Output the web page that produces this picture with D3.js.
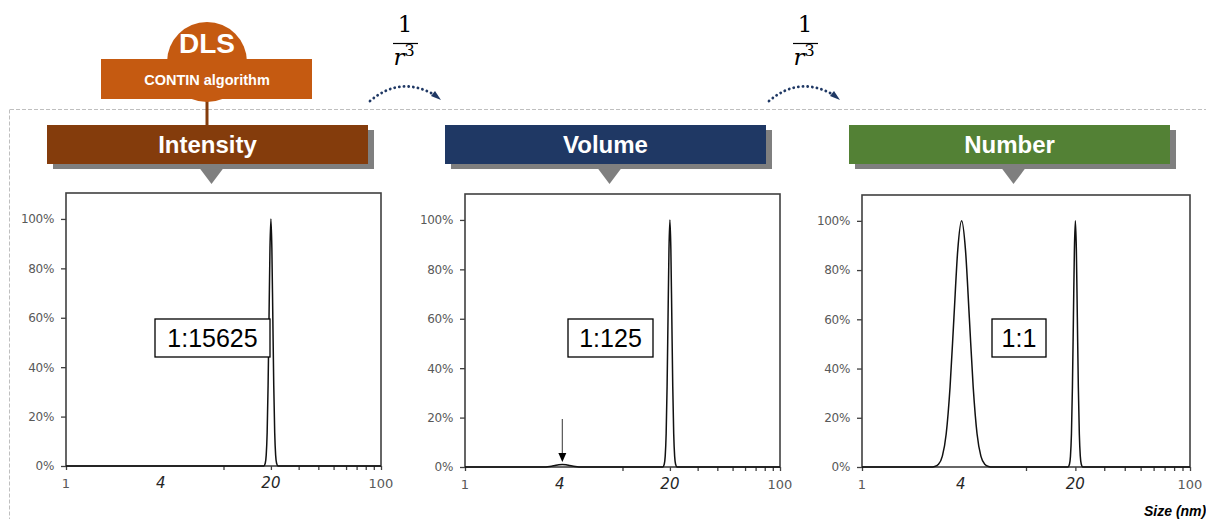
<!DOCTYPE html>
<html>
<head>
<meta charset="utf-8">
<script src="https://cdn.jsdelivr.net/npm/d3@7"></script>
<style>
  html, body { margin: 0; padding: 0; background: #fff; }
  svg { display: block; }
</style>
</head>
<body>
<svg id="chart" width="1206" height="519"></svg>
<script>
// ---------------- data ----------------
const panelTitles = ["Intensity", "Volume", "Number"];
const panelColors = ["#843C0C", "#1F3864", "#538135"];
const ratioLabels = ["1:15625", "1:125", "1:1"];

const yTickValues = [0, 20, 40, 60, 80, 100];
const xTickValues = [1, 10, 20, 30, 40, 50, 60, 70, 80, 90, 100];
const xLabelValues = [1, 4, 20, 100];
const xLabelText = ["1", "4", "20", "100"];

const intensitySizes  = [1, 18.03, 18.41, 18.67, 18.93, 19.19, 19.46, 19.73, 20, 20.28, 20.56, 20.85, 21.14, 21.43, 21.73, 22.18, 100];
const intensityValues = [0, 0, 1.1, 4.4, 13.5, 32.5, 60.7, 88.2, 100, 88.2, 60.7, 32.5, 13.5, 4.4, 1.1, 0, 0];

const volumeSizes  = [1, 2.70, 2.85, 3.01, 3.17, 3.35, 3.54, 3.73, 3.94, 4.15, 4.38, 4.62, 4.88, 5.15, 5.44, 5.74, 6.06, 6.40,
                      18.03, 18.41, 18.67, 18.93, 19.19, 19.46, 19.73, 20, 20.28, 20.56, 20.85, 21.14, 21.43, 21.73, 22.18, 100];
const volumeValues = [0, 0, 0, 0.01, 0.04, 0.14, 0.33, 0.61, 0.88, 1.0, 0.88, 0.61, 0.33, 0.14, 0.04, 0.01, 0, 0,
                      0, 1.1, 4.4, 13.5, 32.5, 60.7, 88.2, 100, 88.2, 60.7, 32.5, 13.5, 4.4, 1.1, 0, 0];

const numberSizes  = [1, 2.627, 2.773, 2.927, 3.090, 3.262, 3.443, 3.635, 3.837, 4.05, 4.275, 4.513, 4.764, 5.029, 5.308, 5.604, 5.915, 6.244,
                      18.03, 18.41, 18.67, 18.93, 19.19, 19.46, 19.73, 20, 20.28, 20.56, 20.85, 21.14, 21.43, 21.73, 22.18, 100];
const numberValues = [0, 0, 0.22, 1.1, 4.4, 13.5, 32.5, 60.7, 88.2, 100, 88.2, 60.7, 32.5, 13.5, 4.4, 1.1, 0.22, 0,
                      0, 1.1, 4.4, 13.5, 32.5, 60.7, 88.2, 100, 88.2, 60.7, 32.5, 13.5, 4.4, 1.1, 0, 0];

const seriesSizes = [intensitySizes, volumeSizes, numberSizes];
const seriesValues = [intensityValues, volumeValues, numberValues];

const volumeMarkerSize = 4.15;   // small 4 nm population pointed at in the Volume panel
const yMax = 110.5;

// ---------------- layout ----------------
const panels = [
  { left: 66,  right: 381,  top: 193, bottom: 466, boxX: 47,  ratioBox: [155, 270] },
  { left: 465, right: 780,  top: 194, bottom: 467, boxX: 445, ratioBox: [568, 653] },
  { left: 862, right: 1190, top: 195, bottom: 467, boxX: 849, ratioBox: [992, 1046] }
];
const boxW = 321, boxTop = 125, boxH = 39;

const svg = d3.select("#chart");

// dashed frame lines
svg.append("line").attr("x1", 10).attr("x2", 1206).attr("y1", 109.5).attr("y2", 109.5)
  .attr("stroke", "#bfbfbf").attr("stroke-width", 1).attr("stroke-dasharray", "4,2");
svg.append("line").attr("x1", 9.5).attr("x2", 9.5).attr("y1", 109.5).attr("y2", 519)
  .attr("stroke", "#bfbfbf").attr("stroke-width", 1).attr("stroke-dasharray", "4,2");

// DLS badge
const dlsColor = "#C55A11";
svg.append("line").attr("x1", 207).attr("x2", 207).attr("y1", 95).attr("y2", 126)
  .attr("stroke", "#843C0C").attr("stroke-width", 3);
svg.append("circle").attr("cx", 207).attr("cy", 62).attr("r", 40).attr("fill", dlsColor);
svg.append("rect").attr("x", 101).attr("y", 59).attr("width", 211).attr("height", 40).attr("fill", dlsColor);
svg.append("text").attr("x", 207).attr("y", 53).attr("text-anchor", "middle")
  .attr("font-family", "Liberation Sans, Arial, sans-serif").attr("font-weight", "bold")
  .attr("font-size", 28).attr("fill", "#fff").text("DLS");
svg.append("text").attr("x", 207).attr("y", 84.5).attr("text-anchor", "middle")
  .attr("font-family", "Liberation Sans, Arial, sans-serif").attr("font-weight", "bold")
  .attr("font-size", 14.5).attr("fill", "#fff").text("CONTIN algorithm");

// 1/r^3 conversion factors with dotted arcs
[{ cx: 405, ax: 370, bx: 440 }, { cx: 805, ax: 769, bx: 839 }].forEach(f => {
  const g = svg.append("g");
  g.append("text").attr("x", f.cx).attr("y", 32).attr("text-anchor", "middle")
    .attr("font-family", "DejaVu Serif, Liberation Serif, serif").attr("font-size", 23)
    .attr("fill", "#000").text("1");
  g.append("line").attr("x1", f.cx - 12).attr("x2", f.cx + 13).attr("y1", 43.5).attr("y2", 43.5)
    .attr("stroke", "#000").attr("stroke-width", 1.2);
  const t = g.append("text").attr("x", f.cx - 1).attr("y", 65).attr("text-anchor", "middle")
    .attr("font-family", "DejaVu Serif, Liberation Serif, serif").attr("fill", "#000");
  t.append("tspan").attr("font-style", "italic").attr("font-size", 23).text("r");
  t.append("tspan").attr("font-size", 16).attr("dy", -9).text("3");
  g.append("path")
    .attr("d", `M${f.ax},${101} Q${(f.ax + f.bx) / 2 - 3},${74} ${f.bx - 2},${97}`)
    .attr("fill", "none").attr("stroke", "#1F3864").attr("stroke-width", 2.8)
    .attr("stroke-linecap", "round").attr("stroke-dasharray", "0.1 4.6");
  g.append("path")
    .attr("d", `M${f.bx - 9},${96} L${f.bx + 1},${100} L${f.bx - 5},${91} Z`)
    .attr("fill", "#1F3864");
});

// panels
panels.forEach((p, i) => {
  const g = svg.append("g");

  // header with shadow
  g.append("rect").attr("x", p.boxX + 6).attr("y", boxTop + 5).attr("width", boxW).attr("height", boxH)
    .attr("fill", "#7f7f7f");
  const triC = p.boxX + boxW / 2 + 4;
  g.append("path").attr("d", `M${triC - 15},${boxTop + boxH} L${triC + 15},${boxTop + boxH} L${triC},${boxTop + boxH + 20} Z`)
    .attr("fill", "#7f7f7f");
  g.append("rect").attr("x", p.boxX).attr("y", boxTop).attr("width", boxW).attr("height", boxH)
    .attr("fill", panelColors[i]);
  g.append("text").attr("x", p.boxX + boxW / 2).attr("y", boxTop + 28).attr("text-anchor", "middle")
    .attr("font-family", "Liberation Sans, Arial, sans-serif").attr("font-weight", "bold")
    .attr("font-size", 24).attr("fill", "#fff").text(panelTitles[i]);

  // scales
  const x = d3.scaleLog().domain([1, 100]).range([p.left, p.right]);
  const y = d3.scaleLinear().domain([0, yMax]).range([p.bottom, p.top]);

  // frame
  g.append("rect").attr("x", p.left).attr("y", p.top).attr("width", p.right - p.left).attr("height", p.bottom - p.top)
    .attr("fill", "none").attr("stroke", "#404040").attr("stroke-width", 1.6);

  // y axis
  const ya = g.append("g").attr("transform", `translate(${p.left},0)`)
    .call(d3.axisLeft(y).tickValues(yTickValues).tickFormat(d => d + "%").tickSize(5).tickPadding(7));
  ya.select(".domain").remove();
  ya.selectAll(".tick line").attr("stroke", "#404040").attr("stroke-width", 1.3);
  ya.selectAll(".tick text").attr("font-family", "DejaVu Sans, sans-serif").attr("font-size", 12)
    .attr("letter-spacing", -0.3).attr("fill", "#595959");

  // x axis ticks
  const xa = g.append("g").attr("transform", `translate(0,${p.bottom})`)
    .call(d3.axisBottom(x).tickValues(xTickValues).tickFormat("").tickSize(4));
  xa.select(".domain").remove();
  xa.selectAll(".tick line").attr("stroke", "#404040").attr("stroke-width", 1.3);

  // x labels
  xLabelValues.forEach((v, k) => {
    const emph = (v === 4 || v === 20);
    g.append("text").attr("x", x(v)).attr("y", p.bottom + 22).attr("text-anchor", "middle")
      .attr("font-family", "DejaVu Sans, sans-serif")
      .attr("font-size", emph ? 15 : 13)
      .attr("font-style", emph ? "italic" : "normal")
      .attr("fill", emph ? "#262626" : "#595959")
      .text(xLabelText[k]);
  });

  // curve
  const pts = seriesSizes[i].map((s, k) => [s, seriesValues[i][k]]);
  const line = d3.line().x(d => x(d[0])).y(d => y(d[1])).curve(d3.curveMonotoneX);
  g.append("path").datum(pts).attr("d", line).attr("fill", "none")
    .attr("stroke", "#111").attr("stroke-width", 1.5);

  // ratio box
  const [bx0, bx1] = p.ratioBox;
  g.append("rect").attr("x", bx0).attr("y", 319).attr("width", bx1 - bx0).attr("height", 38)
    .attr("fill", "#fff").attr("stroke", "#000").attr("stroke-width", 1.3);
  g.append("text").attr("x", (bx0 + bx1) / 2).attr("y", 347).attr("text-anchor", "middle")
    .attr("font-family", "Liberation Sans, Arial, sans-serif").attr("font-size", 25)
    .attr("fill", "#000").text(ratioLabels[i]);

  // arrow pointing at the small population in Volume panel
  if (i === 1) {
    const ax = x(volumeMarkerSize);
    g.append("line").attr("x1", ax).attr("x2", ax).attr("y1", 419).attr("y2", 455)
      .attr("stroke", "#555").attr("stroke-width", 1.2);
    g.append("path").attr("d", `M${ax - 4},${453} L${ax + 4},${453} L${ax},${462} Z`).attr("fill", "#000");
  }
});

// axis title
svg.append("text").attr("x", 1144).attr("y", 516)
  .attr("font-family", "Liberation Sans, Arial, sans-serif").attr("font-weight", "bold")
  .attr("font-style", "italic").attr("font-size", 14).attr("fill", "#000").text("Size (nm)");
</script>
</body>
</html>
